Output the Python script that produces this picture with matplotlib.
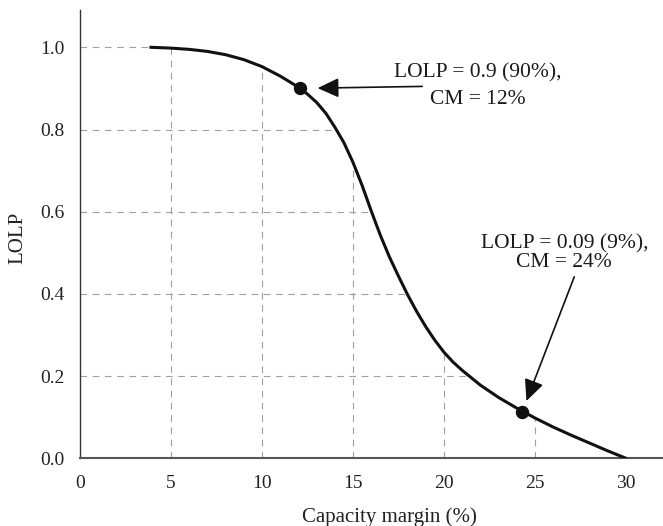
import numpy as np
import matplotlib
matplotlib.use("Agg")
import matplotlib.pyplot as plt

# LOLP curve (capacity margin in %, LOLP as fraction)
cm = [3.9, 5, 6, 7, 8, 9, 10, 11, 12, 12.5, 13, 13.5, 14, 14.5, 15, 15.5, 16, 16.5,
      17, 17.5, 18, 18.5, 19, 19.5, 20, 20.5, 21, 22, 23, 24, 25, 26, 27, 28, 29, 30]
lolp = [1.0, 0.998, 0.995, 0.990, 0.982, 0.970, 0.953, 0.930, 0.903, 0.886, 0.866, 0.840,
        0.806, 0.768, 0.720, 0.664, 0.602, 0.543, 0.490, 0.443, 0.398, 0.357, 0.320, 0.287,
        0.258, 0.234, 0.214, 0.178, 0.148, 0.122, 0.098, 0.076, 0.056, 0.037, 0.018, 0.0]

# highlighted points and their notes
point_cm = [12.1, 24.3]
point_lolp = [0.90, 0.113]
notes = ["LOLP = 0.9 (90%),\nCM = 12%", "LOLP = 0.09 (9%),\nCM = 24%"]

x_ticks = [0, 5, 10, 15, 20, 25, 30]
y_ticks = [0.0, 0.2, 0.4, 0.6, 0.8, 1.0]

plt.rcParams["font.family"] = ["Liberation Serif", "DejaVu Serif"]

fig = plt.figure(figsize=(6.63, 5.26), dpi=100)
ax = fig.add_axes([80 / 663, 67.7 / 526, 583 / 663, 448.3 / 526])
ax.set_xlim(0, 583 / 18.2)
ax.set_ylim(0, 448.3 / 411)

# dashed drop lines, only up to the curve
grid_kw = dict(color="#a0a0a0", lw=0.8, linestyles=[(0, (6, 5))], zorder=1)
hy = np.array(y_ticks[1:])
ax.hlines(hy, 0, np.interp(hy, lolp[::-1], cm[::-1]), **grid_kw)
vx = np.array(x_ticks[1:-1])
ax.vlines(vx, 0, np.interp(vx, cm, lolp), **grid_kw)

ax.plot(cm, lolp, color="#111111", lw=2.2, solid_joinstyle="round", zorder=3)
ax.plot(point_cm, point_lolp, "o", ms=8.6, color="#111111", zorder=4)

arrow = dict(arrowstyle="-|>,head_length=0.65,head_width=0.3", color="#111111",
             lw=1.2, shrinkA=0, mutation_scale=20)
ax.annotate("", xy=(point_cm[0], point_lolp[0]), xytext=(122, 2), textcoords="offset pixels",
            arrowprops=dict(arrow, shrinkB=12.5))
ax.annotate("", xy=(point_cm[1], point_lolp[1]), xytext=(52, 135), textcoords="offset pixels",
            arrowprops=dict(arrow, shrinkB=8.4))

ax.annotate(notes[0], xy=(point_cm[0], point_lolp[0]), xytext=(178, 2), textcoords="offset pixels",
            ha="center", va="center", fontsize=15.5, linespacing=1.55, color="#1a1a1a")
ax.annotate(notes[1], xy=(point_cm[1], point_lolp[1]), xytext=(42, 159), textcoords="offset pixels",
            ha="center", va="center", fontsize=15.5, linespacing=0.97, color="#1a1a1a")

ax.set_xticks(x_ticks)
ax.set_yticks(y_ticks)
ax.set_yticklabels(["%.1f" % v for v in y_ticks])
ax.tick_params(axis="both", length=0, labelsize=14, labelcolor="#222222")
ax.tick_params(axis="y", pad=11)
ax.tick_params(axis="x", pad=12)

ax.set_xlabel("Capacity margin (%)", fontsize=15, color="#222222", va="center")
ax.xaxis.set_label_coords(0.53, -0.131)
ax.set_ylabel("LOLP", fontsize=15, color="#222222", va="center")
ax.yaxis.set_label_coords(-0.106, 0.4925)

for side in ["top", "right"]:
    ax.spines[side].set_visible(False)
ax.spines["left"].set_color("#333333")
ax.spines["left"].set_linewidth(1.0)
ax.spines["bottom"].set_color("#555555")
ax.spines["bottom"].set_linewidth(1.5)

fig.savefig("out.png", dpi=100)
